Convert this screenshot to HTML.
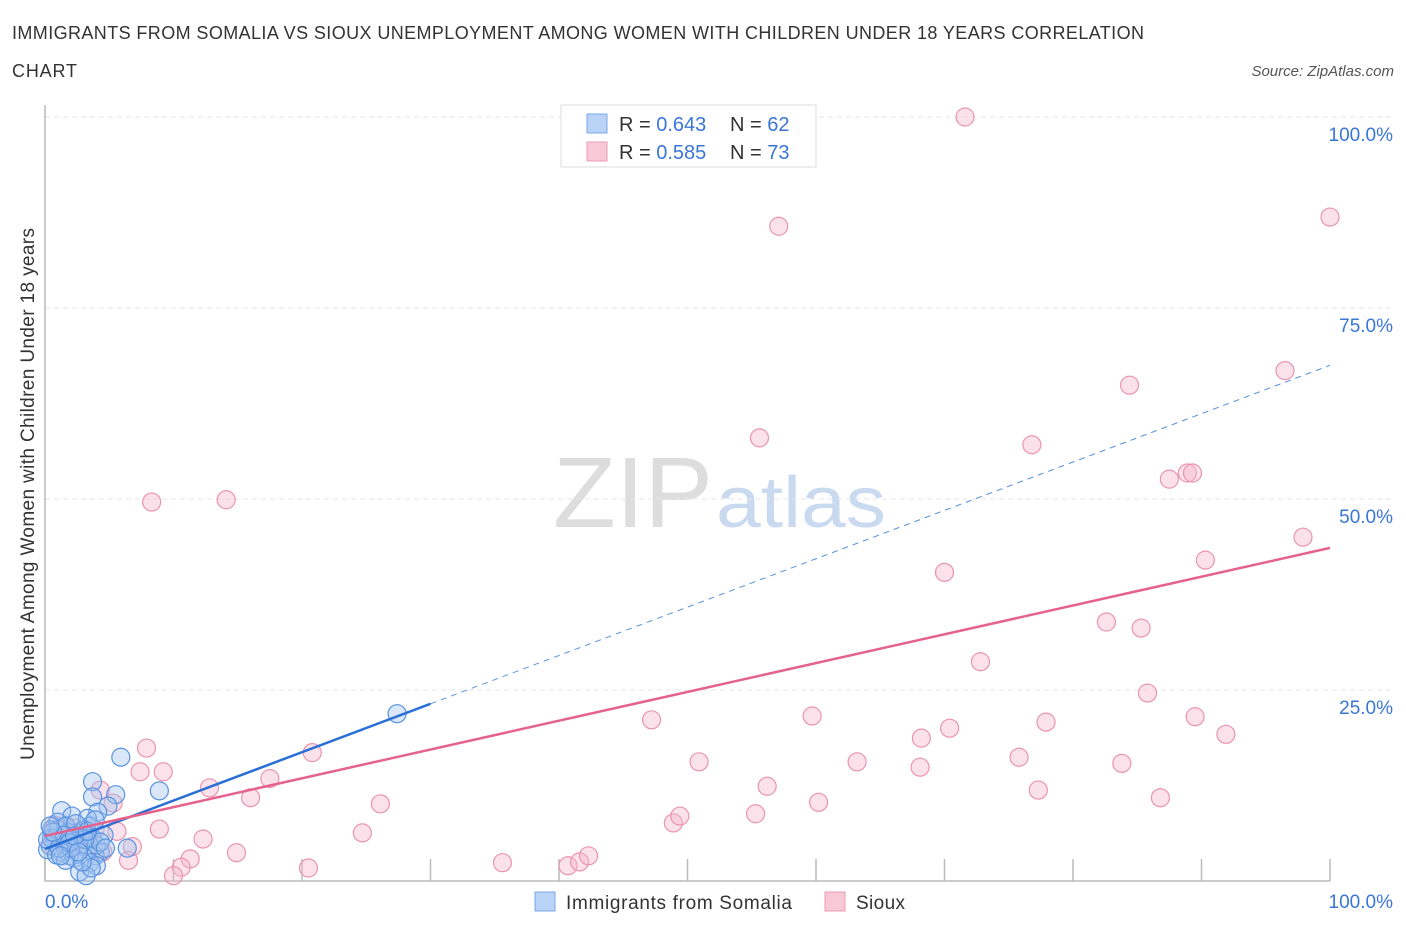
<!DOCTYPE html>
<html><head><meta charset="utf-8"><style>
body{margin:0;background:#fff;font-family:"Liberation Sans",sans-serif}
svg text{font-family:"Liberation Sans",sans-serif}
</style></head><body>
<svg id="chart" width="1406" height="930" xmlns="http://www.w3.org/2000/svg">
<text x="12" y="39" font-size="18" fill="#333" textLength="1132" lengthAdjust="spacing">IMMIGRANTS FROM SOMALIA VS SIOUX UNEMPLOYMENT AMONG WOMEN WITH CHILDREN UNDER 18 YEARS CORRELATION</text>
<text x="12" y="77" font-size="18" fill="#333" textLength="65" lengthAdjust="spacing">CHART</text>
<text x="1394" y="76" font-size="15" fill="#555" font-style="italic" text-anchor="end">Source: ZipAtlas.com</text>
<g>
<text x="553" y="527" font-size="100" fill="#ddd" font-family="Liberation Serif,serif" textLength="160" lengthAdjust="spacingAndGlyphs">ZIP</text>
<text x="716" y="527" font-size="72" fill="#c9d9ef" textLength="170" lengthAdjust="spacingAndGlyphs">atlas</text>
</g>
<g id="grid"></g>
<g id="axes"></g>
<g id="marks"></g>
<text transform="translate(34,494) rotate(-90)" font-size="19" fill="#333" text-anchor="middle" textLength="532" lengthAdjust="spacing">Unemployment Among Women with Children Under 18 years</text>
<g>
<rect x="561" y="105" width="255" height="62" fill="#fff" stroke="#ddd"/>
<rect x="587" y="114" width="20" height="19" fill="#b8d3f5" stroke="#7aa7e6"/>
<rect x="587" y="142" width="20" height="19" fill="#f8c8d6" stroke="#ea9cb5"/>
<text x="619" y="131" font-size="20" fill="#333">R = <tspan fill="#3a76d8">0.643</tspan><tspan x="730">N = </tspan><tspan fill="#3a76d8">62</tspan></text>
<text x="619" y="159" font-size="20" fill="#333">R = <tspan fill="#3a76d8">0.585</tspan><tspan x="730">N = </tspan><tspan fill="#3a76d8">73</tspan></text>
</g>
<g>
<rect x="535" y="892" width="20" height="19" fill="#b8d3f5" stroke="#7aa7e6"/>
<text x="566" y="909" font-size="19" fill="#333" textLength="226" lengthAdjust="spacing">Immigrants from Somalia</text>
<rect x="825" y="892" width="20" height="19" fill="#f8c8d6" stroke="#ea9cb5"/>
<text x="856" y="909" font-size="19" fill="#333" textLength="49" lengthAdjust="spacing">Sioux</text>
</g>
</svg>
<script>
const blueX=[27.4,5.9,3.7,8.9,5.5,3.7,4.9,4.1,1.3,2.1,3.3,1.0,3.5,0.5,1.8,2.7,3.1,0.8,1.3,2.1,2.6,3.3,4.3,3.9,1.2,1.9,0.4,0.2,2.3,3.5,4.0,2.7,3.2,6.4,1.6,0.5,1.0,1.6,2.4,3.0,3.7,4.0,4.6,0.9,1.6,2.0,0.2,4.3,3.6,4.7,2.9,1.1,1.5,3.1,1.9,2.3,0.6,1.2,2.6,3.3,3.9,0.4];
const blueY=[21.9,16.2,13.0,11.8,11.3,11.0,9.8,9.0,9.2,8.5,8.2,7.7,7.2,6.7,6.4,6.2,6.7,5.6,5.1,5.4,4.6,4.2,3.8,3.3,3.8,3.3,4.6,4.1,3.0,2.4,2.0,1.2,0.7,4.3,4.7,5.6,6.7,7.2,7.5,5.6,5.6,4.7,6.0,3.4,2.7,4.3,5.4,5.1,1.7,4.3,2.5,4.3,6.0,5.4,5.0,5.9,6.4,3.3,3.8,6.5,8.0,7.2];
const pinkX=[8.3,14.1,71.6,57.1,100,96.5,84.4,55.6,76.8,87.5,88.9,89.3,97.9,90.3,70.0,82.6,85.3,72.8,85.8,47.2,59.7,70.4,77.9,89.5,68.2,91.9,7.9,7.4,9.2,17.5,50.9,20.8,63.2,68.1,75.8,83.8,12.8,56.2,16.0,26.1,60.2,77.3,86.8,8.9,24.7,12.3,14.9,48.9,49.4,55.3,11.3,10.6,10.0,20.5,35.6,40.7,41.6,42.3,5.6,6.5,4.3,5.3,3.3,1.2,1.9,2.7,4.5,6.8,0.8,2.3,3.9,0.4,1.6];
const pinkY=[49.6,49.9,100,85.7,86.9,66.8,64.9,58.0,57.1,52.6,53.4,53.4,45.0,42.0,40.4,33.9,33.1,28.7,24.6,21.1,21.6,20.0,20.8,21.5,18.7,19.2,17.4,14.3,14.3,13.4,15.6,16.8,15.6,14.9,16.2,15.4,12.2,12.4,10.9,10.1,10.3,11.9,10.9,6.8,6.3,5.5,3.7,7.6,8.5,8.8,2.9,1.8,0.7,1.7,2.4,2.0,2.5,3.3,6.5,2.7,11.9,10.2,5.8,5.4,6.0,4.7,3.8,4.5,7.3,6.9,6.7,4.7,4.1];
const blueTrend=[4.2,0.633];
const pinkTrend=[5.9,0.377];
const yTicks=[25,50,75,100];
const yTickLabels=["25.0%","50.0%","75.0%","100.0%"];
const xTicks=[0,10,20,30,40,50,60,70,80,90,100];

const NS="http://www.w3.org/2000/svg";
const X0=45,X1=1330,Y0=881,Y1=117;
const sx=v=>X0+(X1-X0)*v/100;
const sy=v=>Y0-(Y0-Y1)*v/100;
function mk(tag,attrs,parent){const e=document.createElementNS(NS,tag);for(const k in attrs)e.setAttribute(k,attrs[k]);parent.appendChild(e);return e;}
const grid=document.getElementById('grid'),axes=document.getElementById('axes'),marks=document.getElementById('marks');
yTicks.forEach((t,i)=>{
 const l=mk('line',{x1:X0,x2:1395,y1:sy(t),y2:sy(t),stroke:'#e6e6e6','stroke-dasharray':'5,4'},grid);
 
 
 const tx=mk('text',{x:1393,y:sy(t)+24,'font-size':19,fill:'#3a76d8','text-anchor':'end'},axes);
 tx.textContent=yTickLabels[i];
 
 
});
const ax=mk('path',{d:`M${X0} 105 V${Y0} H${X1}`,stroke:'#bbb',fill:'none','stroke-width':1.5},axes);


xTicks.forEach(t=>{
 const l=mk('line',{x1:sx(t),x2:sx(t),y1:Y0-22,y2:Y0,stroke:'#bbb','stroke-width':1.5},axes);
 
 
});
const xl0=mk('text',{x:45,y:908,'font-size':19,fill:'#3a76d8'},axes);xl0.textContent='0.0%';


const xl1=mk('text',{x:1393,y:908,'font-size':19,fill:'#3a76d8','text-anchor':'end'},axes);xl1.textContent='100.0%';



pinkX.forEach((x,i)=>{
 const c=mk('circle',{cx:sx(x),cy:sy(pinkY[i]),r:9,fill:'rgba(246,182,202,0.4)',stroke:'#ea94b0','stroke-width':1.2},marks);
 
 
});
blueX.forEach((x,i)=>{
 const c=mk('circle',{cx:sx(x),cy:sy(blueY[i]),r:9,fill:'rgba(160,196,240,0.4)',stroke:'#5a92e0','stroke-width':1.2},marks);
 
 
});
const bEnd=30;
const b1=mk('line',{x1:sx(0),y1:sy(blueTrend[0]),x2:sx(bEnd),y2:sy(blueTrend[0]+blueTrend[1]*bEnd),stroke:'#2a6fd6','stroke-width':2.5},marks);


const b2=mk('line',{x1:sx(bEnd),y1:sy(blueTrend[0]+blueTrend[1]*bEnd),x2:sx(100),y2:sy(blueTrend[0]+blueTrend[1]*100),stroke:'#5a92e0','stroke-width':1,'stroke-dasharray':'6,5'},marks);


const p1=mk('line',{x1:sx(0),y1:sy(pinkTrend[0]),x2:sx(100),y2:sy(pinkTrend[0]+pinkTrend[1]*100),stroke:'#e5628d','stroke-width':2.5},marks);


</script>
</body></html>
